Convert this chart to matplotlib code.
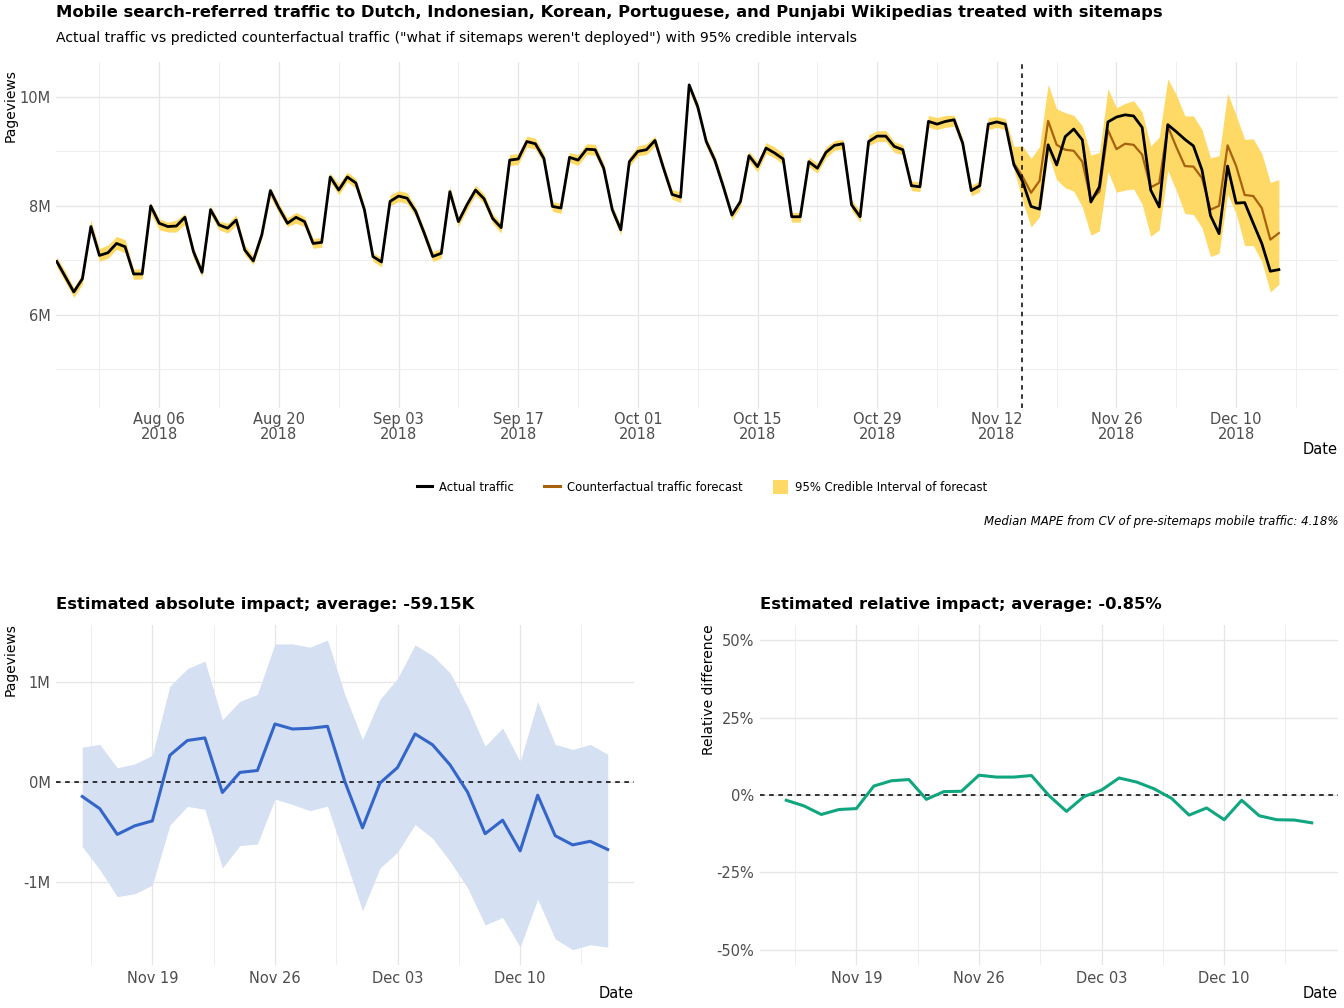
import matplotlib
matplotlib.use("Agg")
import matplotlib.pyplot as plt
import matplotlib.dates as mdates
from matplotlib.lines import Line2D
from matplotlib.patches import Patch
import numpy as np
import pandas as pd

plt.rcParams['font.family'] = ['DejaVu Sans']

# ---------------- data ----------------
start_date = "2018-07-25"
end_date = "2018-12-15"
sitemap_date = "2018-11-15"
forecast_start = "2018-11-14"

actual_traffic_m = [
    6.98, 6.70, 6.42, 6.66, 7.62, 7.09, 7.14,
    7.31, 7.25, 6.75, 6.75, 8.00, 7.68, 7.62, 7.63, 7.79, 7.16, 6.78, 7.93, 7.65, 7.59, 7.74, 7.19, 6.99, 7.47,
    8.28, 7.96, 7.68, 7.79, 7.71, 7.31, 7.33, 8.53, 8.29, 8.53, 8.42, 7.93, 7.07,
    6.97, 8.08, 8.18, 8.14, 7.90, 7.50, 7.07, 7.13, 8.26, 7.71, 8.02, 8.29, 8.13, 7.77, 7.60, 8.84, 8.86, 9.18,
    9.14, 8.87, 7.99, 7.96, 8.89, 8.84, 9.04, 9.03, 8.69, 7.93, 7.56, 8.81,
    9.00, 9.03, 9.20, 8.69, 8.21, 8.16, 10.22, 9.82, 9.18, 8.84, 8.35, 7.83, 8.08, 8.92, 8.72, 9.06, 8.97, 8.86,
    7.80, 7.80, 8.81, 8.69, 8.98, 9.11, 9.14, 8.02, 7.80, 9.18, 9.28, 9.28, 9.09,
    9.03, 8.37, 8.35, 9.55, 9.50, 9.55, 9.58, 9.15, 8.28, 8.37, 9.50, 9.54, 9.50, 8.75, 8.45, 7.99, 7.94, 9.12,
    8.75, 9.27, 9.41, 9.21, 8.07, 8.35, 9.54, 9.63, 9.67, 9.65, 9.44, 8.29,
    7.98, 9.49, 9.36, 9.22, 9.10, 8.66, 7.82, 7.49, 8.73, 8.05, 8.06, 7.68, 7.31, 6.80, 6.83,
]

counterfactual_m = [  # Nov 14 .. Dec 15
    8.78, 8.54, 8.24, 8.46, 9.56, 9.12, 9.03, 9.01, 8.81, 8.11, 8.26, 9.39, 9.04, 9.14, 9.12, 8.94,
    8.34, 8.42, 9.46, 9.08, 8.73, 8.72, 8.51, 7.93, 8.00, 9.11, 8.73, 8.20, 8.18, 7.96, 7.38, 7.50,
]

band_upper_pre_m = [  # Jul 25 .. Nov 13
    7.06, 6.80, 6.50, 6.76, 7.74, 7.22, 7.28,
    7.44, 7.38, 6.84, 6.85, 8.06, 7.76, 7.70, 7.74, 7.86, 7.24, 6.86, 8.00, 7.72, 7.68, 7.84, 7.28, 7.08, 7.56,
    8.34, 8.04, 7.78, 7.88, 7.80, 7.40, 7.42, 8.60, 8.40, 8.62, 8.50, 8.02, 7.14,
    7.05, 8.20, 8.28, 8.24, 7.98, 7.58, 7.16, 7.22, 8.36, 7.80, 8.10, 8.38, 8.22, 7.86, 7.68, 8.94, 8.96, 9.28,
    9.24, 8.96, 8.08, 8.04, 8.98, 8.94, 9.14, 9.13, 8.78, 8.02, 7.64, 8.90,
    9.10, 9.14, 9.28, 8.78, 8.30, 8.26, 10.26, 9.90, 9.26, 8.92, 8.44, 7.90, 8.16, 9.00, 8.82, 9.16, 9.08, 8.96,
    7.88, 7.88, 8.90, 8.78, 9.08, 9.20, 9.22, 8.12, 7.90, 9.30, 9.38, 9.38, 9.18,
    9.12, 8.46, 8.44, 9.66, 9.62, 9.66, 9.66, 9.24, 8.38, 8.46, 9.62, 9.64, 9.60,
]
band_lower_pre_m = [  # Jul 25 .. Nov 13
    6.88, 6.60, 6.32, 6.56, 7.56, 6.98, 7.04,
    7.20, 7.14, 6.65, 6.66, 7.86, 7.56, 7.52, 7.52, 7.66, 7.04, 6.70, 7.84, 7.56, 7.50, 7.64, 7.10, 6.92, 7.40,
    8.16, 7.86, 7.62, 7.68, 7.62, 7.22, 7.24, 8.44, 8.20, 8.44, 8.32, 7.84, 6.98,
    6.88, 8.00, 8.08, 8.04, 7.80, 7.40, 6.98, 7.04, 8.16, 7.62, 7.92, 8.20, 8.04, 7.68, 7.50, 8.74, 8.76, 9.08,
    9.04, 8.78, 7.90, 7.86, 8.80, 8.74, 8.94, 8.93, 8.60, 7.84, 7.46, 8.72,
    8.92, 8.94, 9.10, 8.60, 8.12, 8.06, 10.10, 9.72, 9.08, 8.74, 8.26, 7.74, 7.98, 8.82, 8.62, 8.96, 8.88, 8.76,
    7.70, 7.70, 8.72, 8.60, 8.88, 9.02, 9.04, 7.92, 7.70, 9.10, 9.18, 9.18, 8.98,
    8.94, 8.28, 8.26, 9.44, 9.40, 9.44, 9.46, 9.06, 8.18, 8.26, 9.40, 9.44, 9.40,
]
band_upper_post_m = [  # Nov 14 .. Dec 15
    9.09, 9.10, 8.87, 9.09, 10.23, 9.78, 9.71, 9.66, 9.47, 8.93, 8.98, 10.15, 9.80, 9.88, 9.93, 9.72,
    9.10, 9.26, 10.33, 10.04, 9.65, 9.65, 9.40, 8.88, 8.92, 10.07, 9.66, 9.22, 9.23, 8.96, 8.43, 8.48,
]
band_lower_post_m = [  # Nov 14 .. Dec 15
    8.66, 8.10, 7.61, 7.80, 8.94, 8.48, 8.33, 8.27, 7.98, 7.46, 7.54, 8.63, 8.25, 8.29, 8.31, 8.03,
    7.44, 7.56, 8.65, 8.28, 7.86, 7.84, 7.60, 7.07, 7.13, 8.21, 7.86, 7.27, 7.27, 6.98, 6.42, 6.56,
]

impact_start = "2018-11-15"
abs_impact_m = [-0.145, -0.267, -0.524, -0.438, -0.389, 0.267, 0.415, 0.441, -0.105, 0.096, 0.115,
                0.580, 0.530, 0.537, 0.557, 0.0, -0.458, -0.01, 0.145, 0.481, 0.372, 0.171, -0.102,
                -0.517, -0.382, -0.689, -0.132, -0.537, -0.629, -0.593, -0.675]
abs_upper_m = [0.349, 0.376, 0.142, 0.181, 0.267, 0.959, 1.133, 1.209, 0.623, 0.807, 0.876, 1.381,
               1.381, 1.348, 1.420, 0.870, 0.425, 0.827, 1.035, 1.371, 1.265, 1.091, 0.755, 0.359,
               0.540, 0.204, 0.804, 0.376, 0.326, 0.376, 0.277]
abs_lower_m = [-0.646, -0.876, -1.147, -1.117, -1.031, -0.432, -0.244, -0.273, -0.860, -0.636, -0.619,
               -0.171, -0.224, -0.287, -0.241, -0.761, -1.288, -0.860, -0.702, -0.425, -0.563, -0.794,
               -1.058, -1.430, -1.354, -1.651, -1.173, -1.568, -1.677, -1.628, -1.651]
rel_impact_pct = [-1.7, -3.5, -6.3, -4.7, -4.4, 2.9, 4.6, 5.0, -1.4, 1.1, 1.2, 6.4, 5.8, 5.8, 6.3, -0.2,
                  -5.3, -0.5, 1.6, 5.5, 4.2, 2.0, -1.1, -6.5, -4.2, -8.0, -1.7, -6.7, -8.0, -8.1, -9.0]

top_yticks = [6, 8, 10]
top_ytick_labels = ["6M", "8M", "10M"]
abs_yticks = [-1, 0, 1]
abs_ytick_labels = ["-1M", "0M", "1M"]
rel_yticks = [-50, -25, 0, 25, 50]
rel_ytick_labels = ["-50%", "-25%", "0%", "25%", "50%"]

# ---------------- styles ----------------
W, H = 1344, 1008
GRID = "#e6e6e6"
TICKC = "#4d4d4d"
BAND = "#FFD966"
BROWN = "#A8620E"
BLUE = "#3465C8"
BLUE_BAND = "#D5E0F3"
GREEN = "#10A67F"

dates = pd.date_range(start_date, end_date, freq="D")
fc_dates = pd.date_range(forecast_start, end_date, freq="D")
imp_dates = pd.date_range(impact_start, end_date, freq="D")
band_upper = band_upper_pre_m + band_upper_post_m
band_lower = band_lower_pre_m + band_lower_post_m

fig = plt.figure(figsize=(W / 100, H / 100), dpi=100)


def ax_rect(x0, y0, x1, y1):
    return [x0 / W, 1 - y1 / H, (x1 - x0) / W, (y1 - y0) / H]


def style_ax(ax):
    for s in ax.spines.values():
        s.set_visible(False)
    ax.tick_params(length=0, labelsize=10.5, labelcolor=TICKC, pad=4)
    ax.set_axisbelow(True)


# ---------- top panel ----------
ax = fig.add_axes(ax_rect(56, 62, 1338, 408))
style_ax(ax)
ax.fill_between(dates, band_lower, band_upper, color=BAND, lw=0, zorder=2)
ax.plot(fc_dates, counterfactual_m, color=BROWN, lw=1.6, zorder=3)
ax.plot(dates, actual_traffic_m, color="black", lw=2.0, zorder=4)
ax.axvline(pd.Timestamp(sitemap_date), color="black", ls=(0, (3, 3)), lw=1.1, zorder=5)
ax.set_xlim(pd.Timestamp("2018-07-25") - pd.Timedelta(hours=2), pd.Timestamp("2018-12-21 22:00"))
ax.set_ylim(4.29, 10.64)
ax.set_yticks(top_yticks)
ax.set_yticklabels(top_ytick_labels)
ax.set_yticks([5, 7, 9], minor=True)
major_x = pd.date_range("2018-08-06", "2018-12-21", freq="14D")
minor_x = pd.date_range("2018-07-30", "2018-12-21", freq="14D")
ax.set_xticks(major_x)
ax.set_xticklabels([d.strftime("%b %d\n%Y") for d in major_x])
ax.set_xticks(minor_x, minor=True)
ax.tick_params(which="minor", length=0)
ax.grid(which="major", color=GRID, lw=0.9)
ax.grid(which="minor", color="#eeeeee", lw=0.7)
ax.tick_params(axis="x", labelsize=10.5, pad=3)
for t in ax.get_xticklabels():
    t.set_linespacing(1.0)

fig.text(56 / W, 1 - 13 / H, "Mobile search-referred traffic to Dutch, Indonesian, Korean, Portuguese, and Punjabi Wikipedias treated with sitemaps",
         fontsize=11.8, fontweight="bold", ha="left", va="center")
fig.text(56 / W, 1 - 38 / H, "Actual traffic vs predicted counterfactual traffic (\"what if sitemaps weren't deployed\") with 95% credible intervals",
         fontsize=10.1, ha="left", va="center")
fig.text(11 / W, 1 - 106 / H, "Pageviews", rotation=90, fontsize=10, ha="center", va="center")
fig.text(1338 / W, 1 - 449 / H, "Date", fontsize=10.5, ha="right", va="center")

handles = [Line2D([], [], color="black", lw=2.2),
           Line2D([], [], color=BROWN, lw=2.2),
           Patch(facecolor=BAND, edgecolor="none")]
labels = ["Actual traffic", "Counterfactual traffic forecast", "95% Credible Interval of forecast"]
fig.legend(handles, labels, loc="center", bbox_to_anchor=(702 / W, 1 - 487 / H), ncol=3, frameon=False,
           fontsize=8.4, handlelength=1.3, handleheight=1.4, handletextpad=0.6, columnspacing=2.6)
fig.text(1338 / W, 1 - 521 / H, "Median MAPE from CV of pre-sitemaps mobile traffic: 4.18%",
         fontsize=8.5, style="italic", ha="right", va="center")

# ---------- bottom panels ----------
bmajor = pd.date_range("2018-11-19", "2018-12-10", freq="7D")
bminor = pd.date_range("2018-11-15 12:00", "2018-12-17", freq="7D")
bxlim = (pd.Timestamp("2018-11-13 12:00"), pd.Timestamp("2018-12-16 12:00"))

ax2 = fig.add_axes(ax_rect(56, 625, 634, 965))
style_ax(ax2)
ax2.fill_between(imp_dates, abs_lower_m, abs_upper_m, color=BLUE_BAND, lw=0, zorder=2)
ax2.plot(imp_dates, abs_impact_m, color=BLUE, lw=2.2, zorder=4)
ax2.axhline(0, color="black", ls=(0, (3, 3)), lw=1.1, zorder=3)
ax2.set_xlim(*bxlim)
ax2.set_ylim(-1.83, 1.57)
ax2.set_yticks(abs_yticks)
ax2.set_yticklabels(abs_ytick_labels)
ax2.set_xticks(bmajor)
ax2.set_xticklabels([d.strftime("%b %d") for d in bmajor])
ax2.set_xticks(bminor, minor=True)
ax2.tick_params(which="minor", length=0)
ax2.grid(which="major", color=GRID, lw=0.9)
ax2.grid(which="minor", axis="x", color="#eeeeee", lw=0.7)
fig.text(56 / W, 1 - 604 / H, "Estimated absolute impact; average: -59.15K", fontsize=11.8,
         fontweight="bold", ha="left", va="center")
fig.text(11 / W, 1 - 660 / H, "Pageviews", rotation=90, fontsize=10, ha="center", va="center")
fig.text(634 / W, 1 - 993 / H, "Date", fontsize=10.5, ha="right", va="center")

ax3 = fig.add_axes(ax_rect(760, 625, 1338, 965))
style_ax(ax3)
ax3.plot(imp_dates, rel_impact_pct, color=GREEN, lw=2.2, zorder=4)
ax3.axhline(0, color="black", ls=(0, (3, 3)), lw=1.1, zorder=3)
ax3.set_xlim(*bxlim)
ax3.set_ylim(-55, 55)
ax3.set_yticks(rel_yticks)
ax3.set_yticklabels(rel_ytick_labels)
ax3.set_xticks(bmajor)
ax3.set_xticklabels([d.strftime("%b %d") for d in bmajor])
ax3.set_xticks(bminor, minor=True)
ax3.tick_params(which="minor", length=0)
ax3.grid(which="major", color=GRID, lw=0.9)
ax3.grid(which="minor", axis="x", color="#eeeeee", lw=0.7)
fig.text(760 / W, 1 - 604 / H, "Estimated relative impact; average: -0.85%", fontsize=11.8,
         fontweight="bold", ha="left", va="center")
fig.text(709 / W, 1 - 690 / H, "Relative difference", rotation=90, fontsize=10, ha="center", va="center")
fig.text(1338 / W, 1 - 993 / H, "Date", fontsize=10.5, ha="right", va="center")

fig.savefig("out.png", dpi=100)
